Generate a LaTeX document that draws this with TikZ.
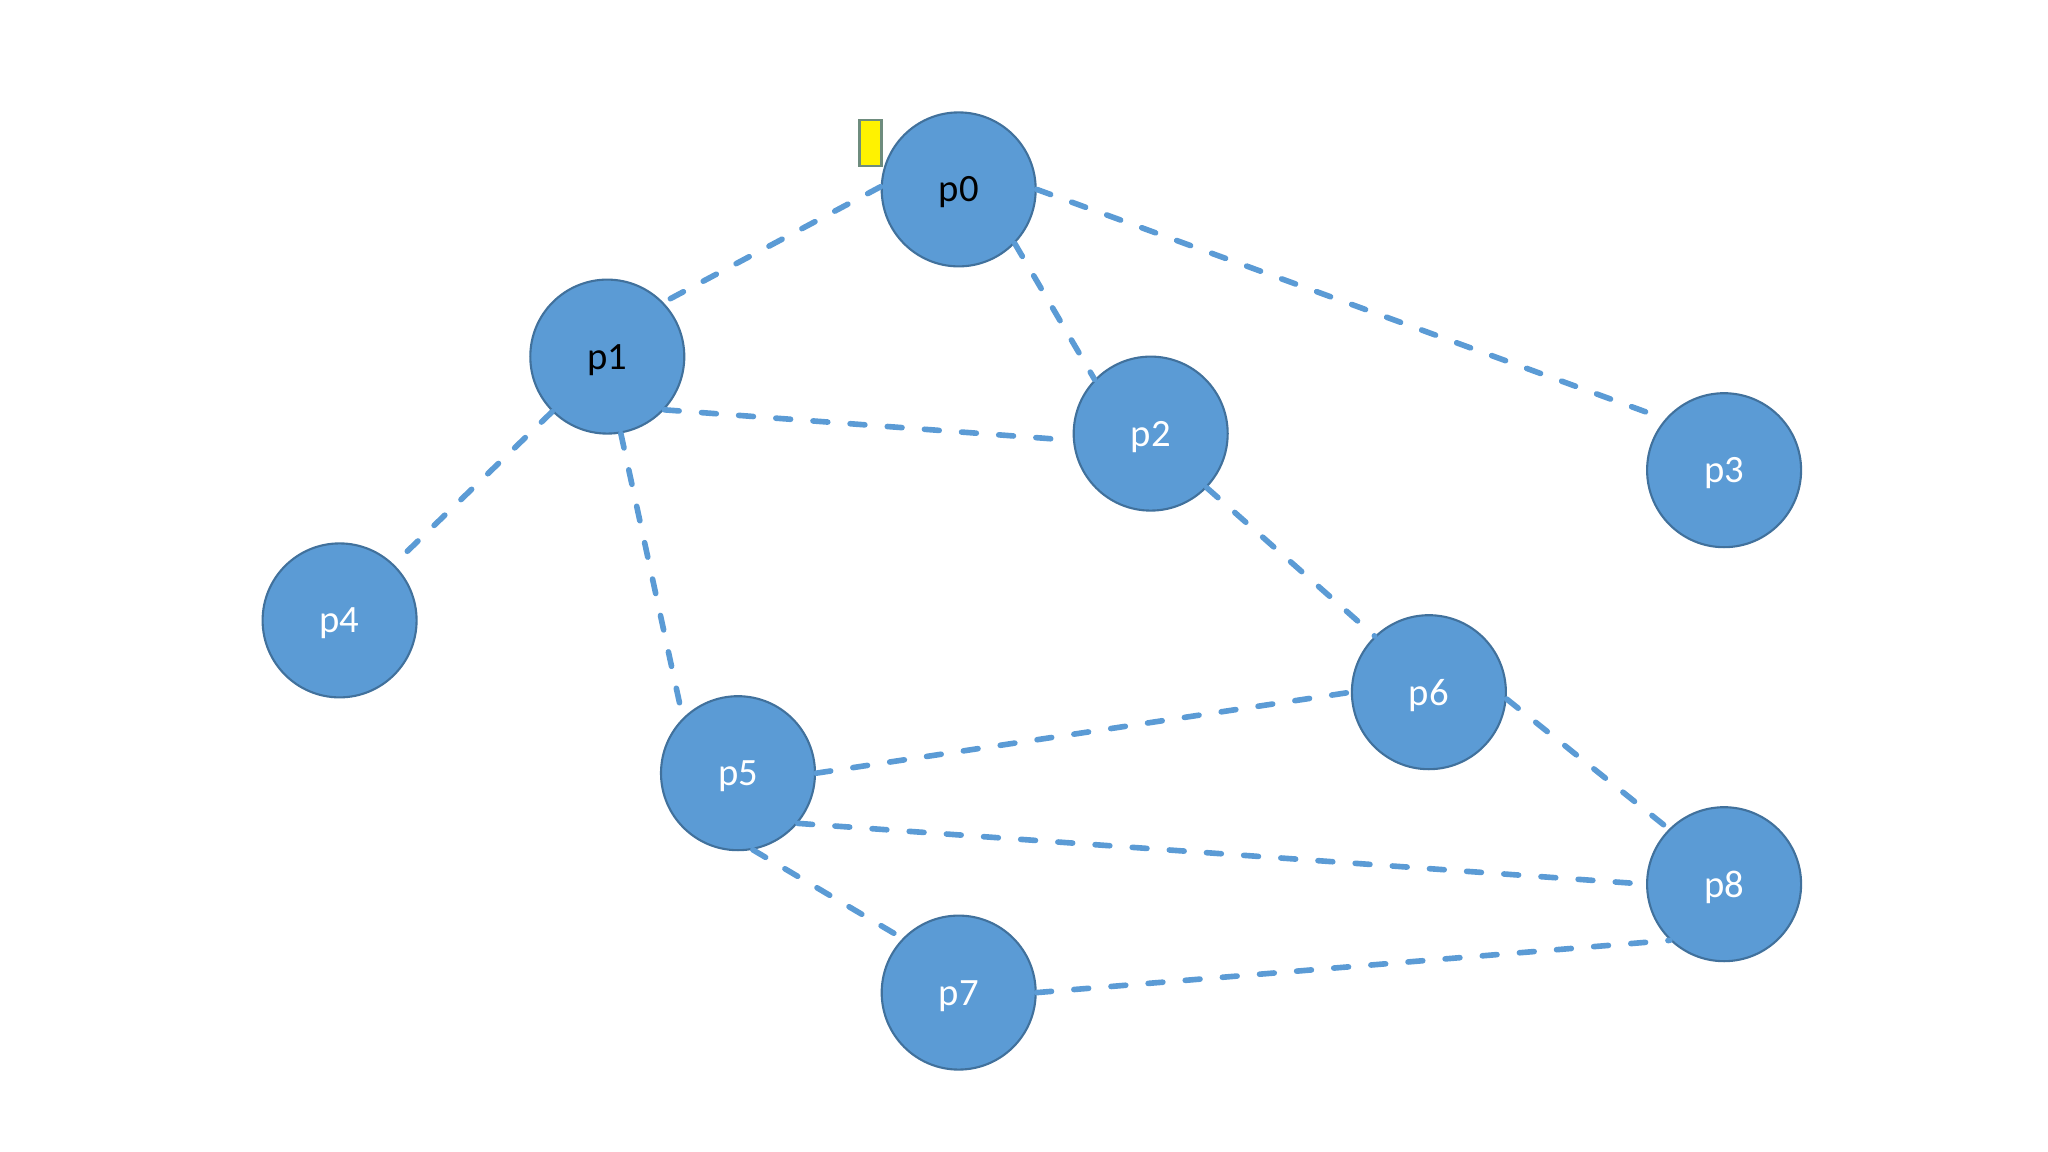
\documentclass[tikz,border=0pt]{standalone}
\usepackage{fontspec}
\setmainfont{Carlito}
\usepackage{tikz}
\definecolor{nodeblue}{HTML}{5B9BD5}
\definecolor{nodeedge}{HTML}{41719C}
\definecolor{flagedge}{HTML}{6E8C7E}

\begin{document}
\begin{tikzpicture}[
		peer/.style={circle, fill=nodeblue, draw=nodeedge, line width=0.6pt, minimum size=1.54cm, inner sep=0pt, text depth=0pt, text=white, font=\fontsize{11}{13}\selectfont},
		dark/.style={text=black},
		link/.style={draw=nodeblue, line width=1.6pt, line cap=round, dash pattern=on 4.2pt off 6.4pt}
	]
		%%%%% START %%%%%
		
		\useasboundingbox (0, 0) rectangle (20.48, -11.52);
		
		\node[peer, dark] (p0) at (9.587, -1.894) {p0};
		\node[peer, dark] (p1) at (6.073, -3.566) {p1};
		\node[peer] (p2) at (11.507, -4.336) {p2};
		\node[peer] (p3) at (17.241, -4.702) {p3};
		\node[peer] (p4) at (3.396, -6.204) {p4};
		\node[peer] (p5) at (7.380, -7.732) {p5};
		\node[peer] (p6) at (14.289, -6.922) {p6};
		\node[peer] (p7) at (9.587, -9.926) {p7};
		\node[peer] (p8) at (17.241, -8.842) {p8};
		
		\node[draw=flagedge, fill=yellow, line width=0.6pt, minimum width=0.22cm, minimum height=0.46cm, inner sep=0pt] (tag) at (8.705, -1.43) {};
		
		\draw[link] (p0.178) -- (p1.44);
		\draw[link] (p0.-44) -- (p2.136);
		\draw[link] (p0.0) -- (p3.139);
		
		\draw[link] (p1.-43) -- (p2.185);
		\draw[link] (p1.-135) -- (p4.46);
		\draw[link] (p1.-80) -- (p5.135);
		
		\draw[link] (p2.-44) -- (p6.134);
		
		\draw[link] (p5.0) -- (p6.180);
		\draw[link] (p5.-40) -- (p8.180);
		\draw[link] (p5.-79) -- (p7.136);
		
		\draw[link] (p6.-5) -- (p8.135);
		\draw[link] (p7.0) -- (p8.226);
		
		%%%%% END %%%%%
	\end{tikzpicture}
\end{document}
